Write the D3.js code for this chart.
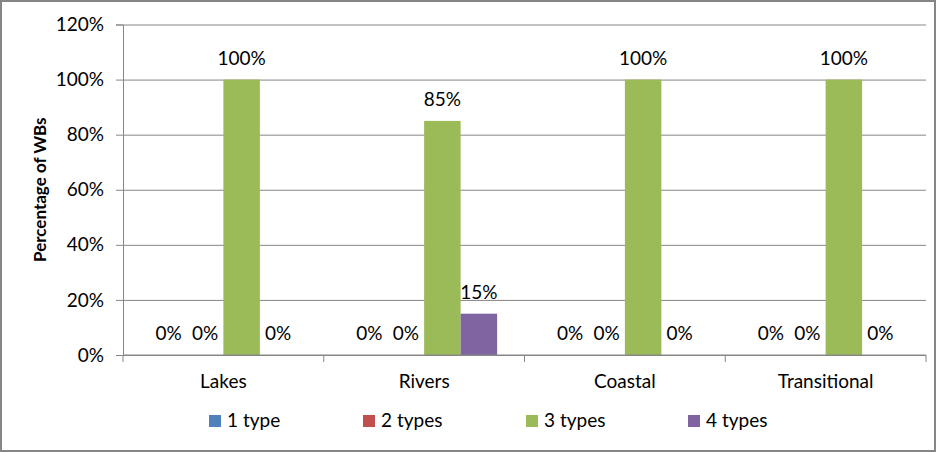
<!DOCTYPE html>
<html>
<head>
<meta charset="utf-8">
<script src="https://cdn.jsdelivr.net/npm/d3@7/dist/d3.min.js"></script>
<style>
  html, body { margin: 0; padding: 0; background: #fff; }
  svg { display: block; font-family: Lato, "Open Sans", sans-serif; }
</style>
</head>
<body>
<div id="chart"></div>
<script>
// Données
const categories = ["Lakes", "Rivers", "Coastal", "Transitional"]
const seriesNames = ["1 type", "2 types", "3 types", "4 types"]
const oneType = [0, 0, 0, 0]
const twoTypes = [0, 0, 0, 0]
const threeTypes = [1, 0.85, 1, 1]
const fourTypes = [0, 0.15, 0, 0]
const yTicks = [0, 0.2, 0.4, 0.6, 0.8, 1.0, 1.2]
const colors = ["#4F81BD", "#C0504D", "#9BBB59", "#8064A2"]

const series = [oneType, twoTypes, threeTypes, fourTypes]

const W = 936, H = 452
const margin = { top: 24.5, right: 10, bottom: 97, left: 123 }
const plotW = W - margin.left - margin.right
const plotH = H - margin.top - margin.bottom

const svg = d3.select("#chart").append("svg")
  .attr("width", W).attr("height", H)
  .attr("viewBox", `0 0 ${W} ${H}`)

// Cadre extérieur
svg.append("rect")
  .attr("x", 1).attr("y", 1).attr("width", W - 2).attr("height", H - 2)
  .attr("fill", "#fff").attr("stroke", "#868686").attr("stroke-width", 2)

const g = svg.append("g").attr("transform", `translate(${margin.left},${margin.top})`)

const x0 = d3.scaleBand().domain(categories).range([0, plotW])
// gap de 150 % : 4 barres + 1.5 barre d'espace
const x1 = d3.scaleBand().domain(d3.range(series.length))
  .range([0, x0.bandwidth() * 4 / 5.5])
const groupOffset = (x0.bandwidth() - x1.range()[1]) / 2
const y = d3.scaleLinear().domain([0, 1.2]).range([plotH, 0])

// Grille horizontale
g.append("g")
  .call(d3.axisLeft(y).tickValues(yTicks).tickSize(-plotW).tickFormat(""))
  .call((s) => s.select(".domain").remove())
  .call((s) => s.selectAll("line").attr("stroke", "#868686"))

// Axe Y
g.append("g")
  .call(d3.axisLeft(y).tickValues(yTicks).tickSizeOuter(0).tickSize(7).tickPadding(12)
    .tickFormat(d3.format(".0%")))
  .call((s) => s.select(".domain").attr("stroke", "#868686"))
  .call((s) => s.selectAll("line").attr("stroke", "#868686"))
  .call((s) => s.selectAll("text").attr("fill", "#000").attr("font-size", 19)
    .attr("font-family", "Lato, sans-serif"))

// Titre de l'axe Y
svg.append("text")
  .attr("transform", `translate(46,${margin.top + plotH / 2}) rotate(-90)`)
  .attr("text-anchor", "middle")
  .attr("font-size", 17).attr("font-weight", 700)
  .text("Percentage of WBs")

// Barres
categories.forEach((cat, ci) => {
  const gx = x0(cat) + groupOffset
  series.forEach((vals, si) => {
    const v = vals[ci]
    g.append("rect")
      .attr("x", gx + x1(si)).attr("width", x1.bandwidth())
      .attr("y", y(v)).attr("height", plotH - y(v))
      .attr("fill", colors[si])
    g.append("text")
      .attr("x", gx + x1(si) + x1.bandwidth() / 2)
      .attr("y", y(v) - 15)
      .attr("text-anchor", "middle")
      .attr("font-size", 19)
      .text(d3.format(".0%")(v))
  })
})

// Axe X
const xAxis = g.append("g").attr("transform", `translate(0,${plotH})`)
xAxis.append("line").attr("x1", 0).attr("x2", plotW).attr("stroke", "#868686")
xAxis.selectAll("line.tk")
  .data(d3.range(categories.length + 1))
  .join("line").attr("class", "tk")
  .attr("x1", (i) => i * x0.step()).attr("x2", (i) => i * x0.step())
  .attr("y1", 0).attr("y2", 7).attr("stroke", "#868686")
xAxis.selectAll("text")
  .data(categories)
  .join("text")
  .attr("x", (d) => x0(d) + x0.bandwidth() / 2)
  .attr("y", 33)
  .attr("text-anchor", "middle")
  .attr("font-size", 19)
  .text((d) => d)

// Légende
const legendX = [209, 363, 526, 688]
const legend = svg.append("g").attr("transform", "translate(0,421)")
seriesNames.forEach((name, i) => {
  legend.append("rect")
    .attr("x", legendX[i]).attr("y", -6).attr("width", 12).attr("height", 12)
    .attr("fill", colors[i])
  legend.append("text")
    .attr("x", legendX[i] + 18).attr("y", 6)
    .attr("font-size", 19)
    .text(name)
})
</script>
</body>
</html>
